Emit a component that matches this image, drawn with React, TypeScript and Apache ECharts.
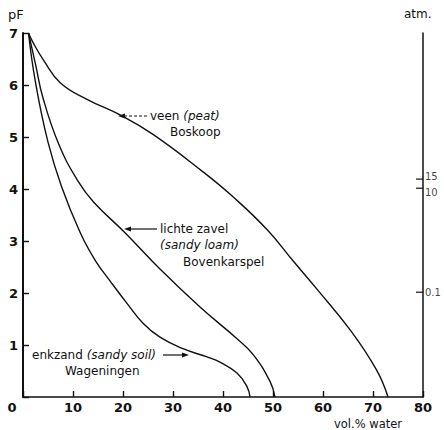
import React, { useEffect, useRef } from "react";
import * as echarts from "echarts";

// pF curves: [vol.% water, pF]
const peatVeen: [number, number][] = [
  [1.1, 7], [2.1, 6.8], [4.1, 6.48], [7.5, 6.04], [12.9, 5.72], [19.5, 5.42],
  [26, 5.05], [36, 4.33], [42, 3.85], [48.8, 3.22], [54, 2.62], [59, 2.05],
  [65.5, 1.28], [70.7, 0.52], [73, 0],
];
const sandyLoamZavel: [number, number][] = [
  [1.1, 7], [2.5, 6.4], [4, 5.75], [7.2, 4.85], [11, 4.15], [14.1, 3.75],
  [20.5, 3.15], [27.5, 2.45], [35.4, 1.73], [42.8, 1.12], [46, 0.82],
  [49.4, 0.3], [50.4, 0],
];
const sandyEnkzand: [number, number][] = [
  [1.1, 7], [2.5, 6.05], [5, 4.9], [7.7, 4.05], [11.5, 3.15], [14.5, 2.62],
  [17.5, 2.22], [20.8, 1.8], [24, 1.42], [27.4, 1.15], [32, 0.93],
  [36.8, 0.77], [39.4, 0.67], [42.8, 0.46], [44.8, 0.2], [45.4, 0],
];

const xTicks = [0, 10, 20, 30, 40, 50, 60, 70, 80];
const pFTicks = [1, 2, 3, 4, 5, 6, 7];
const atmTicks = [0.1, 10, 15];
const atmLabels = ["0.1", "10", "15"];
const CM_PER_ATM = 1033.2;

const INK = "#111";
const FONT = "DejaVu Sans";

export default function App() {
  const ref = useRef<HTMLDivElement>(null);
  useEffect(() => {
    if (!ref.current) return;
    const chart = echarts.init(ref.current, undefined, { renderer: "svg" });
    const atmPF = atmTicks.map((a) => Math.log10(a * CM_PER_ATM));
    const xMax = xTicks[xTicks.length - 1];
    const labelShift = [0, 4, -3];
    const lineSeries = (name: string, data: [number, number][]) => ({
      name,
      type: "line",
      data,
      smooth: 0.45,
      showSymbol: false,
      symbol: "none",
      lineStyle: { color: INK, width: 1.4 },
      yAxisIndex: 0,
    });
    const txt = (x: number, y: number, text: string, rich?: any, extra: any = {}) => ({
      type: "text",
      x,
      y,
      style: {
        text,
        fill: INK,
        font: `12px ${FONT}`,
        textVerticalAlign: "middle",
        rich,
        ...extra,
      },
    });
    const rich = {
      n: { fontFamily: FONT, fontSize: 12, color: INK },
      i: { fontFamily: FONT, fontSize: 12, fontStyle: "italic", color: INK },
    };
    chart.setOption({
      animation: false,
      backgroundColor: "#fff",
      grid: { left: 23, right: 21, top: 33, bottom: 33 },
      xAxis: {
        type: "value",
        min: xTicks[0],
        max: xMax,
        interval: 10,
        splitLine: { show: false },
        axisLine: { lineStyle: { color: INK, width: 1.6 } },
        axisTick: { inside: true, length: 6, lineStyle: { color: INK, width: 1.4 } },
        axisLabel: {
          color: INK,
          fontFamily: FONT,
          fontSize: 13,
          fontWeight: "bold",
          margin: 4,
          formatter: (v: number) => (v === 0 ? "{z|0}" : String(v)),
          rich: { z: { fontFamily: FONT, fontSize: 13, fontWeight: "bold", color: INK, padding: [0, 22, 0, 0] } },
        },
      },
      yAxis: [
        {
          type: "value",
          min: 0,
          max: 7,
          interval: 1,
          splitLine: { show: false },
          axisLine: { show: true, lineStyle: { color: INK, width: 2 } },
          axisTick: { show: true, inside: true, length: 6, lineStyle: { color: INK, width: 1.4 } },
          axisLabel: {
            color: INK,
            fontFamily: FONT,
            fontSize: 13,
            fontWeight: "bold",
            margin: 5,
            formatter: (v: number) => (pFTicks.includes(v) ? String(v) : ""),
          },
        },
        {
          type: "value",
          position: "right",
          min: 0,
          max: 7,
          interval: 1,
          splitLine: { show: false },
          axisLine: { show: true, lineStyle: { color: INK, width: 1.5 } },
          axisTick: { show: false },
          axisLabel: { show: false },
        },
      ],
      series: [
        lineSeries("veen (peat) Boskoop", peatVeen),
        lineSeries("lichte zavel (sandy loam) Bovenkarspel", sandyLoamZavel),
        lineSeries("enkzand (sandy soil) Wageningen", sandyEnkzand),
        {
          name: "atm",
          type: "scatter",
          yAxisIndex: 1,
          clip: false,
          silent: true,
          symbol: "rect",
          symbolSize: [7, 1.5],
          symbolOffset: [-3.5, 0],
          itemStyle: { color: INK },
          label: {
            show: true,
            position: "right",
            distance: 2,
            color: INK,
            fontFamily: FONT,
            fontSize: 10,
            lineHeight: 11,
            formatter: (p: any) => atmLabels[p.dataIndex],
          },
          labelLayout: (p: any) => ({ dy: labelShift[p.dataIndex], hideOverlap: false }),
          data: atmPF.map((p) => [xMax, p]),
        },
      ],
      graphic: [
        txt(8, 14, "pF", undefined, { font: `13px ${FONT}` }),
        txt(404, 14, "atm.", undefined, { font: `12px ${FONT}` }),
        txt(334, 424, "vol.% water", undefined, { font: `11.5px ${FONT}` }),
        // peat
        txt(150, 116, "{n|veen }{i|(peat)}", rich),
        txt(170, 132, "Boskoop"),
        { type: "line", shape: { x1: 124, y1: 116, x2: 148, y2: 116 }, style: { stroke: INK, lineWidth: 1.2, lineDash: [3, 2] } },
        { type: "polygon", shape: { points: [[118, 116], [125, 113.5], [125, 118.5]] }, style: { fill: INK } },
        // loam
        txt(160, 229, "lichte zavel"),
        txt(160, 245, "{i|(sandy loam)}", rich),
        txt(183, 262, "Bovenkarspel"),
        { type: "line", shape: { x1: 130, y1: 229, x2: 157, y2: 229 }, style: { stroke: INK, lineWidth: 1.2 } },
        { type: "polygon", shape: { points: [[124, 229], [131, 226.5], [131, 231.5]] }, style: { fill: INK } },
        // sand
        txt(32, 355, "{n|enkzand }{i|(sandy soil)}", rich),
        txt(65, 371, "Wageningen"),
        { type: "line", shape: { x1: 163, y1: 355, x2: 182, y2: 355 }, style: { stroke: INK, lineWidth: 1.2 } },
        { type: "polygon", shape: { points: [[189, 355], [182, 352.5], [182, 357.5]] }, style: { fill: INK } },
      ],
    });
    return () => chart.dispose();
  }, []);
  return (
    <div
      ref={ref}
      style={{ position: "fixed", left: 0, top: 0, width: 444, height: 430, background: "#fff" }}
    />
  );
}
